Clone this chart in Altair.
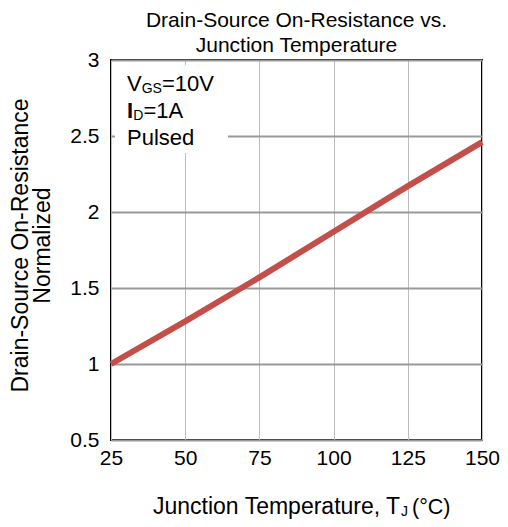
import altair as alt
import pandas as pd

temps = [25, 50, 75, 100, 125, 150]
rds = [1.00, 1.28, 1.57, 1.87, 2.17, 2.46]
x_ticks = [25, 50, 75, 100, 125, 150]
y_ticks = [0.5, 1, 1.5, 2, 2.5, 3]
title_lines = ["Drain-Source On-Resistance vs.", "Junction Temperature"]
y_title_lines = ["Drain-Source On-Resistance", "Normalized"]

FONT = "Liberation Sans"
df = pd.DataFrame({"T": temps, "R": rds})
one = pd.DataFrame({"a": [0]})

line = alt.Chart(df).mark_line(color="#c34e4a", strokeWidth=6).encode(
    x=alt.X("T:Q", scale=alt.Scale(domain=[25, 150], nice=False),
            axis=alt.Axis(values=x_ticks, title=None, grid=True, gridColor="#bdbdbd",
                          gridWidth=1, ticks=False, domain=False, labelFontSize=21,
                          labelPadding=7, labelColor="black", labelFont=FONT,
                          labelFlush=False, format="d")),
    y=alt.Y("R:Q", scale=alt.Scale(domain=[0.5, 3], nice=False),
            axis=alt.Axis(values=y_ticks, title=y_title_lines, grid=True, gridColor="#999999",
                          gridWidth=2, ticks=False, domain=False, labelFontSize=21,
                          labelPadding=12, labelColor="black", labelFont=FONT,
                          format=".1~f", titleFont=FONT, titleFontSize=23,
                          titleFontWeight="normal", titleColor="black",
                          titleX=-91, titleY=185, titleAngle=270,
                          titleBaseline="middle", titleLineHeight=22)),
)

bg = alt.Chart(one).mark_rect(color="white").encode(
    x=alt.value(4), x2=alt.value(117), y=alt.value(5), y2=alt.value(93))


def txt(s, x, y, size=22, weight="normal"):
    return alt.Chart(one).mark_text(text=s, font=FONT, fontSize=size, fontWeight=weight,
                                    align="left", baseline="alphabetic", color="black").encode(
        x=alt.value(x), y=alt.value(y))


labels = [
    txt("V", 16, 31), txt("GS", 30.7, 33, 14), txt("=10V", 51, 31),
    txt("I", 16, 58, 22, "bold"), txt("D", 22.2, 60, 14), txt("=1A", 32.4, 58),
    txt("Pulsed", 16, 85),
    txt("Junction Temperature, T", 42, 454, 23), txt("J", 290, 456, 14),
    txt("(°C)", 301, 454, 21.5),
]

chart = alt.layer(bg, line, *labels).properties(
    width=371, height=380,
    title=alt.TitleParams(text=title_lines, font=FONT, fontSize=21, fontWeight="normal",
                          color="black", lineHeight=25, offset=-7, anchor="middle"),
    autosize=alt.AutoSizeParams(type="none"),
    padding={"left": 103, "top": 52, "right": 18, "bottom": 79},
).configure_view(stroke="black", strokeWidth=2)

chart.save("out.html", embed_options={"renderer": "svg", "actions": False})
